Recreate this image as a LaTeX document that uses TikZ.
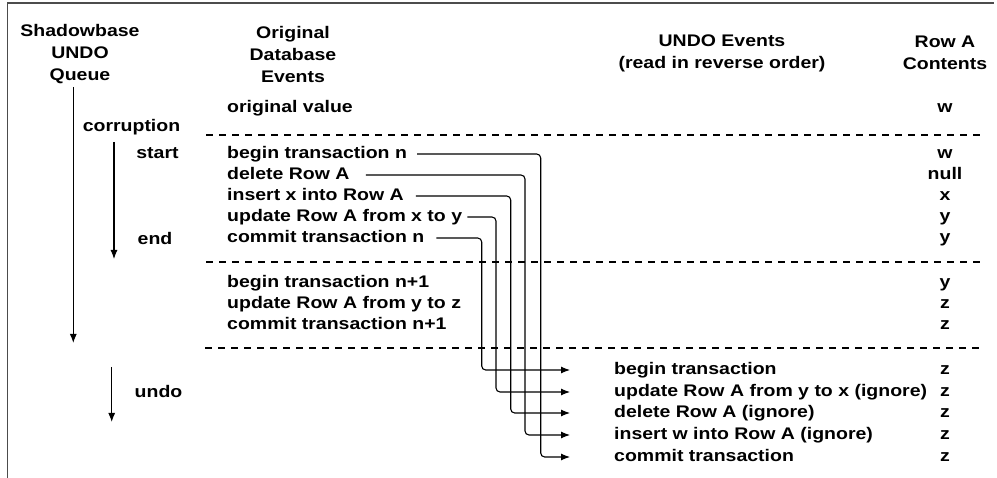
\documentclass[tikz,border=0pt]{standalone}
\usepackage{fontspec}
\setmainfont{Liberation Sans}[FakeStretch=1.16]
\usetikzlibrary{arrows.meta}
\begin{document}
\begin{tikzpicture}[x=1pt,y=-1pt,
  txt/.style={font=\fontsize{16.8}{22}\selectfont\bfseries, inner sep=0pt},
  row/.style={txt, text height=12pt, text depth=3.5pt, anchor=west},
  val/.style={txt, text height=12pt, text depth=3.5pt, anchor=center},
  head/.style={txt, align=center},
  sep/.style={dash pattern=on 7pt off 6pt, line width=1.1pt},
  flow/.style={line width=1.1pt, rounded corners=4pt, -{Latex[length=9pt,width=7pt]}},
  queue/.style={line width=1.1pt, -{Latex[length=9pt,width=7pt]}},
  frame/.style={line width=1.6pt, draw=black!70}]
\useasboundingbox (0,0) rectangle (997,478);

% outer frame (top and left edges)
\draw[frame] (7.3,478) -- (7.3,3.3) -- (994,3.3);

% column headings
\node[head] (hq) at (80,54)  {Shadowbase\\UNDO\\Queue};
\node[head] (hd) at (293,54) {Original\\Database\\Events};
\node[head] (hu) at (722,53) {UNDO Events\\(read in reverse order)};
\node[head] (hr) at (945,53) {Row A\\Contents};

% original database events
\node[row] (ov) at (227,108) {original value};
\node[row] (o1) at (227,154) {begin transaction n};
\node[row] (o2) at (227,175) {delete Row A};
\node[row] (o3) at (227,196) {insert x into Row A};
\node[row] (o4) at (227,217) {update Row A from x to y};
\node[row] (o5) at (227,238) {commit transaction n};
\node[row] (p1) at (227,283) {begin transaction n+1};
\node[row] (p2) at (227,304) {update Row A from y to z};
\node[row] (p3) at (227,325) {commit transaction n+1};

% undo events
\node[row] (u1) at (614,370) {begin transaction};
\node[row] (u2) at (614,392) {update Row A from y to x (ignore)};
\node[row] (u3) at (614,413) {delete Row A (ignore)};
\node[row] (u4) at (614,435) {insert w into Row A (ignore)};
\node[row] (u5) at (614,457) {commit transaction};

% row A contents
\node[val] (c0)  at (945,108) {w};
\node[val] (c1)  at (945,154) {w};
\node[val] (c2)  at (945,175) {null};
\node[val] (c3)  at (945,196) {x};
\node[val] (c4)  at (945,217) {y};
\node[val] (c5)  at (945,238) {y};
\node[val] (c6)  at (945,283) {y};
\node[val] (c7)  at (945,304) {z};
\node[val] (c8)  at (945,325) {z};
\node[val] (c9)  at (945,370) {z};
\node[val] (c10) at (945,392) {z};
\node[val] (c11) at (945,413) {z};
\node[val] (c12) at (945,435) {z};
\node[val] (c13) at (945,457) {z};

% separators between transaction groups
\draw[sep] (206,135) -- (984,135);
\draw[sep] (206,262) -- (984,262);
\draw[sep] (205,348) -- (984,348);

% queue timeline on the left
\node[val] (lc) at (131.5,127) {corruption};
\node[val] (ls) at (157.5,154) {start};
\node[val] (le) at (155,240)   {end};
\node[val] (lu) at (158.5,393) {undo};
\coordinate (qa) at (73.3,87);   \coordinate (qb) at (73.3,343);
\coordinate (sa) at (114,142);   \coordinate (sb) at (114,259);
\coordinate (ua) at (111.7,367); \coordinate (ub) at (111.7,422);
\draw[queue] (qa) -- (qb);
\draw[queue] (sa) -- (sb);
\draw[queue] (ua) -- (ub);

% reversal connectors
\coordinate (v1) at (481.7,0);
\coordinate (v2) at (496,0);
\coordinate (v3) at (510.7,0);
\coordinate (v4) at (525,0);
\coordinate (v5) at (540.7,0);
\coordinate (tip) at (570,0);
\draw[flow] ([xshift=10pt]o1.east) -| (v5 |- u5.west) -- (tip |- u5.west);
\draw[flow] ([xshift=16pt]o2.east) -| (v4 |- u4.west) -- (tip |- u4.west);
\draw[flow] ([xshift=12pt]o3.east) -| (v3 |- u3.west) -- (tip |- u3.west);
\draw[flow] ([xshift=5pt]o4.east)  -| (v2 |- u2.west) -- (tip |- u2.west);
\draw[flow] ([xshift=12pt]o5.east) -| (v1 |- u1.west) -- (tip |- u1.west);
\end{tikzpicture}
\end{document}
